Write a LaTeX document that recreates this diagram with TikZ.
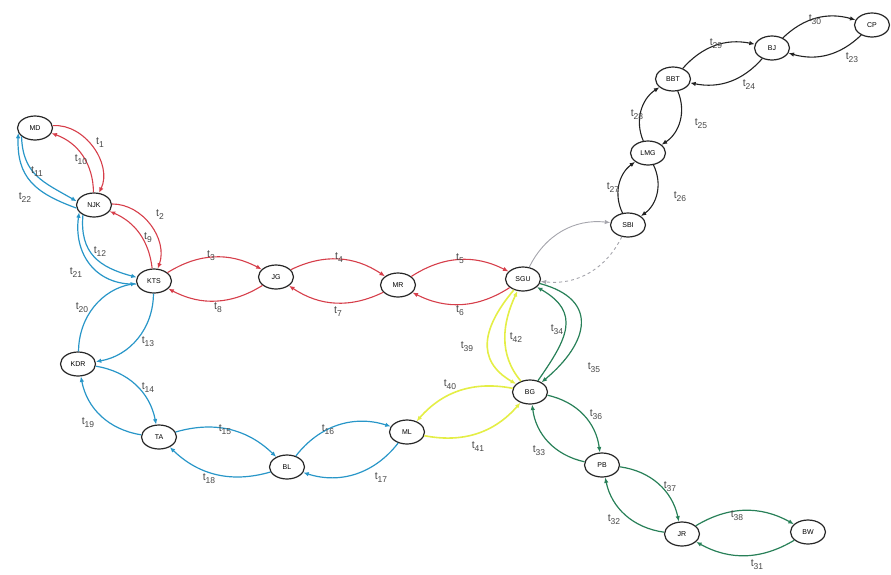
\documentclass[tikz,border=0pt]{standalone}
\usepackage{fontspec}
\setmainfont{Liberation Sans}
\usetikzlibrary{arrows.meta,shapes.geometric}
\definecolor{redE}{RGB}{214,62,74}
\definecolor{blueE}{RGB}{40,150,200}
\definecolor{yelE}{RGB}{228,238,70}
\definecolor{greenE}{RGB}{40,128,88}
\definecolor{grayE}{RGB}{165,165,172}
\definecolor{blackE}{RGB}{35,35,35}
\definecolor{labC}{RGB}{70,70,70}
\newcommand{\tlab}[1]{t\raisebox{-3pt}{\fontsize{8.5}{9}\selectfont #1}}
\begin{document}
\begin{tikzpicture}[x=1pt,y=-1pt,
  st/.style={ellipse, draw=black!85, line width=1.2pt, minimum width=35pt, minimum height=24pt, inner sep=0pt, font=\fontsize{7}{8}\selectfont, fill=white},
  lab/.style={font=\fontsize{10.5}{11}\selectfont, text=labC, inner sep=0pt},
  tip/.style={-{Latex[length=5.5pt,width=4.5pt]}},
  re/.style={tip, draw=redE, line width=1.1pt},
  bl/.style={tip, draw=blueE, line width=1.2pt},
  ye/.style={tip, draw=yelE, line width=1.6pt},
  gr/.style={tip, draw=greenE, line width=1.2pt},
  bk/.style={tip, draw=blackE, line width=1.1pt},
  gy/.style={tip, draw=grayE, line width=0.9pt}]
\useasboundingbox (0,0) rectangle (891,574);
% stations
\node[st] (MD)  at (35,128)  {MD};
\node[st] (NJK) at (94,205)  {NJK};
\node[st] (KTS) at (154,281) {KTS};
\node[st] (JG)  at (276,277) {JG};
\node[st] (MR)  at (398,285) {MR};
\node[st] (SGU) at (523,279) {SGU};
\node[st] (SBI) at (628,225) {SBI};
\node[st] (LMG) at (648,153) {LMG};
\node[st] (BBT) at (673,79)  {BBT};
\node[st] (BJ)  at (772,48)  {BJ};
\node[st] (CP)  at (872,25)  {CP};
\node[st] (KDR) at (78,364)  {KDR};
\node[st] (TA)  at (159,437) {TA};
\node[st] (BL)  at (287,467) {BL};
\node[st] (ML)  at (407,432) {ML};
\node[st] (BG)  at (530,392) {BG};
\node[st] (PB)  at (602,465) {PB};
\node[st] (JR)  at (682,534) {JR};
\node[st] (BW)  at (808,532) {BW};
% red line
\draw[re] (MD) to[bend left=60] (NJK);
\draw[re] (NJK) to[bend right=35] (MD);
\draw[re] (NJK) to[bend left=55] (KTS);
\draw[re] (KTS) to[bend right=30] (NJK);
\draw[re] (KTS) to[bend left=30] (JG);
\draw[re] (JG) to[bend left=30] (KTS);
\draw[re] (JG) to[bend left=30] (MR);
\draw[re] (MR) to[bend left=30] (JG);
\draw[re] (MR) to[bend left=30] (SGU);
\draw[re] (SGU) to[bend left=30] (MR);
% blue line
\draw[bl] (MD.212) to[out=-88, in=150, looseness=1.15] (NJK.168);
\draw[bl] (NJK.190) to[out=160, in=-92, looseness=1.2] (MD.196);
\draw[bl] (NJK.222) to[out=-95, in=165, looseness=1.2] (KTS.168);
\draw[bl] (KTS.190) to[out=182, in=-98, looseness=1.15] (NJK.206);
\draw[bl] (KTS) to[bend left=40] (KDR);
\draw[bl] (KDR) to[bend left=40] (KTS);
\draw[bl] (KDR) to[bend left=35] (TA);
\draw[bl] (TA) to[bend left=35] (KDR);
\draw[bl] (TA) to[bend left=30] (BL);
\draw[bl] (BL) to[bend left=30] (TA);
\draw[bl] (BL) to[bend left=35] (ML);
\draw[bl] (ML) to[bend left=35] (BL);
% yellow line
\draw[ye] (SGU) to[out=-130, in=150, looseness=1.3] (BG);
\draw[ye] (BG) to[out=130, in=-115, looseness=1.0] (SGU);
\draw[ye] (BG) to[bend right=30] (ML);
\draw[ye] (ML) to[bend right=30] (BG);
% green line
\draw[gr] (SGU) to[out=-15, in=40, looseness=1.6] (BG);
\draw[gr] (BG) to[out=55, in=-30, looseness=1.4] (SGU);
\draw[gr] (BG) to[bend left=35] (PB);
\draw[gr] (PB) to[bend left=35] (BG);
\draw[gr] (PB) to[bend left=35] (JR);
\draw[gr] (JR) to[bend left=35] (PB);
\draw[gr] (JR) to[bend left=30] (BW);
\draw[gr] (BW) to[bend left=30] (JR);
% grey link
\draw[gy] (SGU) to[bend left=35] (SBI);
\draw[gy, dashed] (SBI) to[bend left=35] (SGU);
% black line
\draw[bk] (SBI) to[bend left=40] (LMG);
\draw[bk] (LMG) to[bend left=40] (SBI);
\draw[bk] (LMG) to[bend left=40] (BBT);
\draw[bk] (BBT) to[bend left=40] (LMG);
\draw[bk] (BBT) to[bend left=30] (BJ);
\draw[bk] (BJ) to[bend left=30] (BBT);
\draw[bk] (BJ) to[bend left=30] (CP);
\draw[bk] (CP) to[bend left=30] (BJ);
% labels
\node[lab] (l1)  at (100,143) {\tlab{1}};
\node[lab] (l10) at (81,160)  {\tlab{10}};
\node[lab] (l11) at (37,172)  {\tlab{11}};
\node[lab] (l22) at (25,198)  {\tlab{22}};
\node[lab] (l2)  at (160,215) {\tlab{2}};
\node[lab] (l9)  at (148,238) {\tlab{9}};
\node[lab] (l12) at (100,252) {\tlab{12}};
\node[lab] (l21) at (76,273)  {\tlab{21}};
\node[lab] (l3)  at (211,256) {\tlab{3}};
\node[lab] (l8)  at (218,308) {\tlab{8}};
\node[lab] (l4)  at (339,258) {\tlab{4}};
\node[lab] (l7)  at (338,312) {\tlab{7}};
\node[lab] (l5)  at (460,259) {\tlab{5}};
\node[lab] (l6)  at (460,311) {\tlab{6}};
\node[lab] (l20) at (82,308)  {\tlab{20}};
\node[lab] (l13) at (148,342) {\tlab{13}};
\node[lab] (l14) at (148,388) {\tlab{14}};
\node[lab] (l19) at (88,423)  {\tlab{19}};
\node[lab] (l15) at (225,430) {\tlab{15}};
\node[lab] (l18) at (209,479) {\tlab{18}};
\node[lab] (l16) at (328,430) {\tlab{16}};
\node[lab] (l17) at (381,478) {\tlab{17}};
\node[lab] (l40) at (450,385) {\tlab{40}};
\node[lab] (l41) at (478,447) {\tlab{41}};
\node[lab] (l39) at (467,347) {\tlab{39}};
\node[lab] (l42) at (516,338) {\tlab{42}};
\node[lab] (l34) at (557,330) {\tlab{34}};
\node[lab] (l35) at (594,368) {\tlab{35}};
\node[lab] (l36) at (596,415) {\tlab{36}};
\node[lab] (l33) at (539,451) {\tlab{33}};
\node[lab] (l37) at (670,487) {\tlab{37}};
\node[lab] (l32) at (614,520) {\tlab{32}};
\node[lab] (l38) at (737,516) {\tlab{38}};
\node[lab] (l31) at (757,565) {\tlab{31}};
\node[lab] (l27) at (613,188) {\tlab{27}};
\node[lab] (l26) at (680,197) {\tlab{26}};
\node[lab] (l28) at (637,115) {\tlab{28}};
\node[lab] (l25) at (701,124) {\tlab{25}};
\node[lab] (l29) at (716,44)  {\tlab{29}};
\node[lab] (l24) at (749,85)  {\tlab{24}};
\node[lab] (l30) at (815,20)  {\tlab{30}};
\node[lab] (l23) at (852,58)  {\tlab{23}};
\end{tikzpicture}
\end{document}
